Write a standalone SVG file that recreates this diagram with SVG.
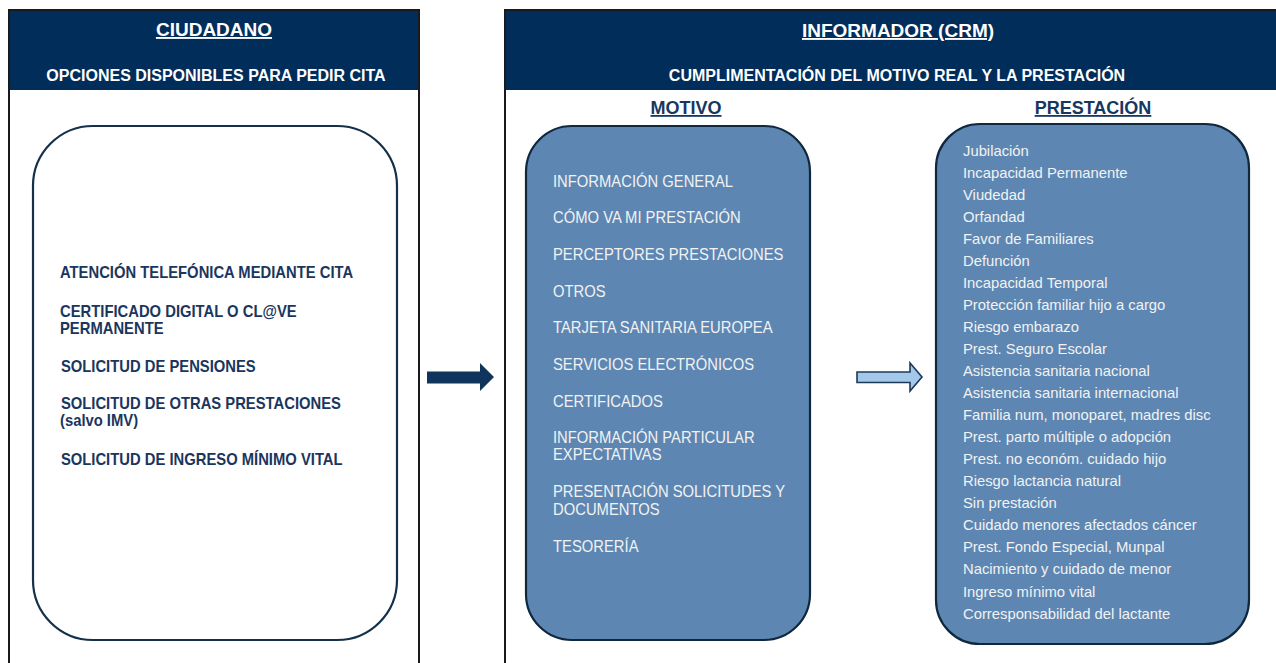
<svg xmlns="http://www.w3.org/2000/svg" width="1276" height="663" viewBox="0 0 1276 663">
  <style>
    text { font-family: "Liberation Sans", Arial, sans-serif; }
    .title { font-size: 19px; font-weight: bold; fill: #ffffff; text-anchor: middle; text-decoration: underline; }
    .subtitle { font-size: 16px; font-weight: bold; fill: #ffffff; text-anchor: middle; }
    .colhead { font-size: 18px; font-weight: bold; fill: #17375e; text-anchor: middle; text-decoration: underline; }
    .opt { font-size: 16px; font-weight: bold; fill: #1b365d; }
    .item { font-size: 16px; fill: #f2f2f2; }
    .plain { font-size: 14.8px; fill: #f2f2f2; }
    .header { fill: #002d5a; }
    .frame { fill: none; stroke: #1a1a1a; stroke-width: 2; }
    .whitebox { fill: #ffffff; stroke: #14304a; stroke-width: 2.2; }
    .bluebox { fill: #5d87b2; stroke: #10283e; stroke-width: 2.2; }
  </style>

  <rect width="1276" height="663" fill="#ffffff"/>

  <!-- Citizen column -->
  <g id="ciudadano">
    <rect class="header" x="9" y="10" width="410" height="80"/>
    <path class="frame" d="M9,663 V10 H419 V663"/>
    <text class="title" x="214" y="36">CIUDADANO</text>
    <text class="subtitle" x="216" y="81">OPCIONES DISPONIBLES PARA PEDIR CITA</text>
  </g>

  <!-- option list, set slightly condensed -->
  <g id="opciones">
    <rect class="whitebox" x="33" y="126" width="364" height="514" rx="60" ry="60"/>
    <g transform="translate(60,0) scale(0.925,1)">
      <text class="opt" x="0" y="278">ATENCIÓN TELEFÓNICA MEDIANTE CITA</text>
      <text class="opt" x="0" y="317">CERTIFICADO DIGITAL O CL@VE</text>
      <text class="opt" x="0" y="334">PERMANENTE</text>
      <text class="opt" x="1" y="372">SOLICITUD DE PENSIONES</text>
      <text class="opt" x="1" y="409">SOLICITUD DE OTRAS PRESTACIONES</text>
      <text class="opt" x="0" y="426">(salvo IMV)</text>
      <text class="opt" x="1" y="465">SOLICITUD DE INGRESO MÍNIMO VITAL</text>
    </g>
  </g>

  <!-- Informer (CRM) column -->
  <g id="informador">
    <rect class="header" x="505" y="10" width="771" height="80"/>
    <path class="frame" d="M505,663 V10 H1277"/>
    <text class="title" x="898" y="37">INFORMADOR (CRM)</text>
    <text class="subtitle" x="897" y="81">CUMPLIMENTACIÓN DEL MOTIVO REAL Y LA PRESTACIÓN</text>
    <text class="colhead" x="686" y="114">MOTIVO</text>
    <text class="colhead" x="1093" y="114">PRESTACIÓN</text>
  </g>

  <g id="motivo">
    <rect class="bluebox" x="526" y="126" width="284" height="514" rx="46" ry="46"/>
    <g transform="translate(553,0) scale(0.925,1)">
      <text class="item" x="0" y="187">INFORMACIÓN GENERAL</text>
      <text class="item" x="0" y="223">CÓMO VA MI PRESTACIÓN</text>
      <text class="item" x="0" y="260">PERCEPTORES PRESTACIONES</text>
      <text class="item" x="0" y="297">OTROS</text>
      <text class="item" x="0" y="333">TARJETA SANITARIA EUROPEA</text>
      <text class="item" x="0" y="370">SERVICIOS ELECTRÓNICOS</text>
      <text class="item" x="0" y="407">CERTIFICADOS</text>
      <text class="item" x="0" y="443">INFORMACIÓN PARTICULAR</text>
      <text class="item" x="0" y="460">EXPECTATIVAS</text>
      <text class="item" x="0" y="497">PRESENTACIÓN SOLICITUDES Y</text>
      <text class="item" x="0" y="515">DOCUMENTOS</text>
      <text class="item" x="0" y="552">TESORERÍA</text>
    </g>
  </g>

  <g id="prestacion">
    <rect class="bluebox" x="936" y="124" width="313" height="520" rx="44" ry="44"/>
    <text class="plain" x="963" y="155.5">Jubilación</text>
    <text class="plain" x="963" y="177.5">Incapacidad Permanente</text>
    <text class="plain" x="963" y="199.6">Viudedad</text>
    <text class="plain" x="963" y="221.6">Orfandad</text>
    <text class="plain" x="963" y="243.7">Favor de Familiares</text>
    <text class="plain" x="963" y="265.7">Defunción</text>
    <text class="plain" x="963" y="287.8">Incapacidad Temporal</text>
    <text class="plain" x="963" y="309.8">Protección familiar hijo a cargo</text>
    <text class="plain" x="963" y="331.9">Riesgo embarazo</text>
    <text class="plain" x="963" y="353.9">Prest. Seguro Escolar</text>
    <text class="plain" x="963" y="376">Asistencia sanitaria nacional</text>
    <text class="plain" x="963" y="398">Asistencia sanitaria internacional</text>
    <text class="plain" x="963" y="420.1">Familia num, monoparet, madres disc</text>
    <text class="plain" x="963" y="442.1">Prest. parto múltiple o adopción</text>
    <text class="plain" x="963" y="464.2">Prest. no económ. cuidado hijo</text>
    <text class="plain" x="963" y="486.2">Riesgo lactancia natural</text>
    <text class="plain" x="963" y="508.3">Sin prestación</text>
    <text class="plain" x="963" y="530.3">Cuidado menores afectados cáncer</text>
    <text class="plain" x="963" y="552.4">Prest. Fondo Especial, Munpal</text>
    <text class="plain" x="963" y="574.4">Nacimiento y cuidado de menor</text>
    <text class="plain" x="963" y="596.5">Ingreso mínimo vital</text>
    <text class="plain" x="963" y="618.5">Corresponsabilidad del lactante</text>
  </g>

  <!-- Block arrows between columns -->
  <g id="connectors">
    <path d="M427,371.5 H480 V363 L494,377 L480,391 V383.5 H427 Z" fill="#0f355c"/>
    <path d="M857,372 H910 V363 L922,377 L910,391 V382.5 H857 Z" fill="#a4c8ea" stroke="#1c3a58" stroke-width="1.6" stroke-linejoin="miter"/>
  </g>
</svg>
